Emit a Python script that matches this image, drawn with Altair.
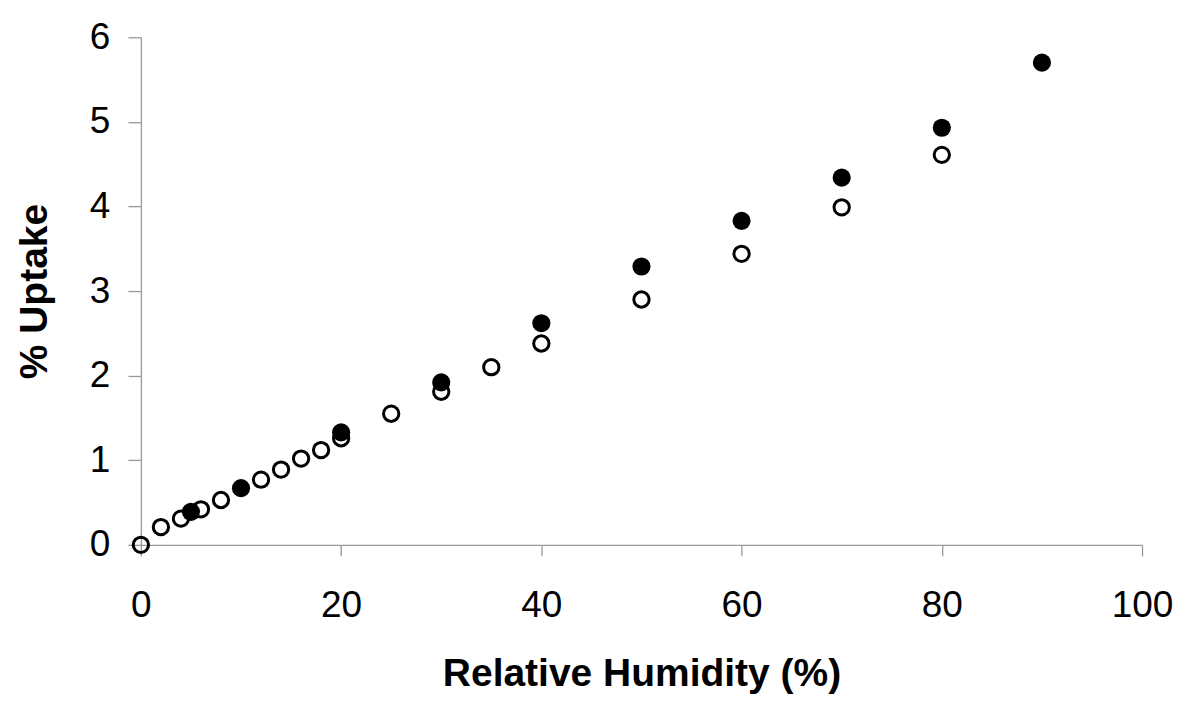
import altair as alt
import pandas as pd

# Filled series
rh_filled = [5, 10, 20, 30, 40, 50, 60, 70, 80, 90]
up_filled = [0.39, 0.67, 1.33, 1.92, 2.62, 3.29, 3.83, 4.34, 4.93, 5.70]

# Open series
rh_open = [0, 2, 4, 6, 8, 12, 14, 16, 18, 20, 25, 30, 35, 40, 50, 60, 70, 80]
up_open = [0.0, 0.21, 0.31, 0.42, 0.53, 0.77, 0.89, 1.02, 1.12, 1.26, 1.55, 1.81, 2.10, 2.38, 2.90, 3.44, 3.99, 4.61]

df_f = pd.DataFrame({"rh": rh_filled, "uptake": up_filled})
df_o = pd.DataFrame({"rh": rh_open, "uptake": up_open})

FONT = "Liberation Sans"

x = alt.X("rh:Q", scale=alt.Scale(domain=[0, 100], nice=False, zero=False),
          axis=alt.Axis(title="Relative Humidity (%)", values=[0, 20, 40, 60, 80, 100],
                        tickSize=11, labelPadding=32, titlePadding=31, labelFlush=False))
y = alt.Y("uptake:Q", scale=alt.Scale(domain=[0, 6], nice=False),
          axis=alt.Axis(title="% Uptake", values=[0, 1, 2, 3, 4, 5, 6],
                        tickSize=13, labelPadding=18, titlePadding=35, labelFlush=False))

open_pts = alt.Chart(df_o).mark_point(
    shape="circle", filled=False, color="black", strokeWidth=3, size=235, opacity=1
).encode(x=x, y=y)

filled_pts = alt.Chart(df_f).mark_point(
    shape="circle", filled=True, color="black", size=330, opacity=1
).encode(x=x, y=y)

chart = alt.layer(open_pts, filled_pts).properties(
    width=1002, height=508,
    autosize=alt.AutoSizeParams(type="none"),
    padding={"left": 133, "top": 29, "right": 50, "bottom": 165},
).configure_view(stroke=None).configure_axis(
    grid=False,
    domainColor="#999999", domainWidth=1.3,
    tickColor="#999999", tickWidth=1.3,
    labelFont=FONT, labelFontSize=37, labelColor="black",
    titleFont=FONT, titleFontSize=39, titleFontWeight="bold", titleColor="black",
)

chart.save("out.html", embed_options={"renderer": "svg", "actions": False})
